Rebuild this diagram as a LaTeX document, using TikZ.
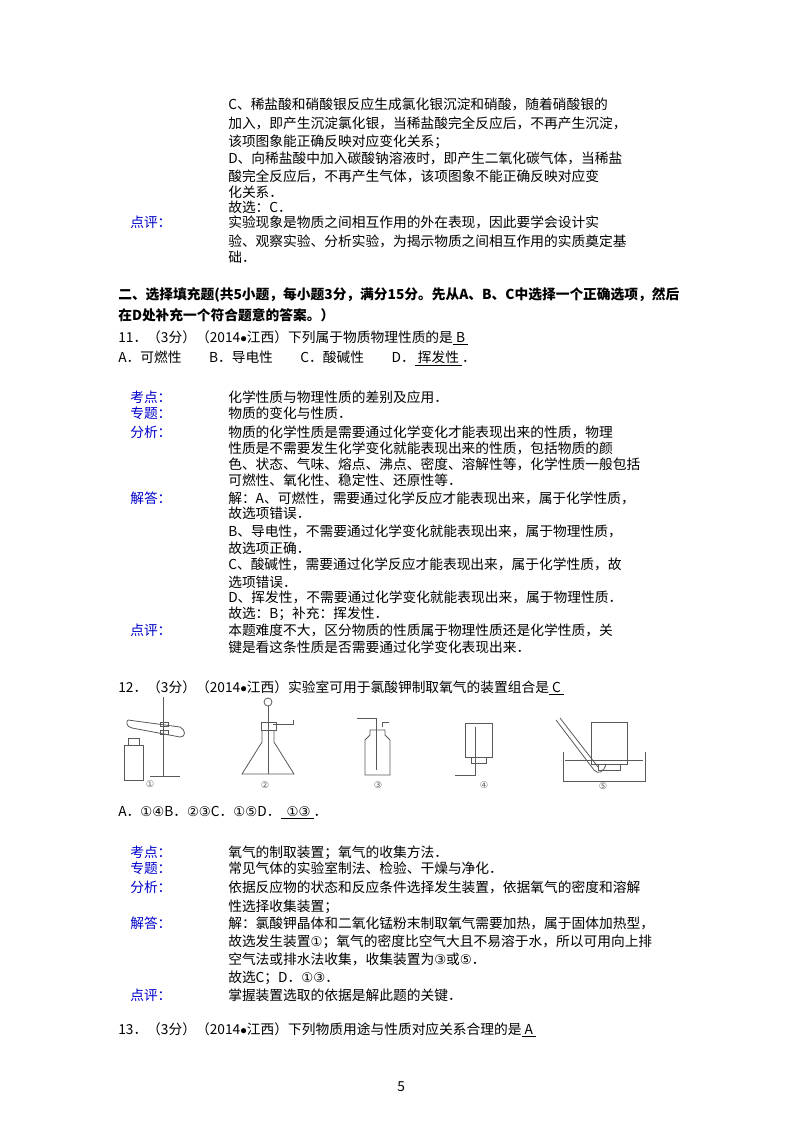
\documentclass[tikz,border=0pt]{standalone}
\usepackage{fontspec}
\setmainfont{Liberation Serif}
\newfontfamily\cjk{Noto Sans CJK SC}
\newfontfamily\dvs{DejaVu Sans}
\newcommand\cn[1]{{\dvs\fontsize{10}{11}\selectfont #1}}
\begin{document}
\begin{tikzpicture}[x=0.75pt,y=-0.75pt,
  t/.style={anchor=base west,inner sep=0,font=\fontsize{10.3}{11}\cjk},
  lb/.style={t,text=blue!80!black},
  hd/.style={t,font=\fontsize{10.3}{11}\cjk\bfseries},
  app/.style={draw=black!65,line width=0.6pt},
  num/.style={inner sep=0,font=\dvs\fontsize{7}{8}\selectfont,text=black!60}]
\useasboundingbox (0,0) rectangle (800,1132);
\fill[white] (0,0) rectangle (800,1132);
% block 1
\node[t] (a1) at (228,109) {C、稀盐酸和硝酸银反应生成氯化银沉淀和硝酸，随着硝酸银的};
\node[t] (a2) at (228,128) {加入，即产生沉淀氯化银，当稀盐酸完全反应后，不再产生沉淀，};
\node[t] (a3) at (228,146) {该项图象能正确反映对应变化关系；};
\node[t] (a4) at (228,163) {D、向稀盐酸中加入碳酸钠溶液时，即产生二氧化碳气体，当稀盐};
\node[t] (a5) at (228,181) {酸完全反应后，不再产生气体，该项图象不能正确反映对应变};
\node[t] (a6) at (228,197) {化关系．};
\node[t] (a7) at (228,212) {故选：C．};
\node[lb] (l1) at (130,227) {点评：};
\node[t] (a8) at (228,227) {实验现象是物质之间相互作用的外在表现，因此要学会设计实};
\node[t] (a9) at (228,246) {验、观察实验、分析实验，为揭示物质之间相互作用的实质奠定基};
\node[t] (a10) at (228,262) {础．};
% section
\node[hd] (h1) at (118,299) {二、选择填充题(共5小题，每小题3分，满分15分。先从A、B、C中选择一个正确选项，然后};
\node[hd] (h2) at (118,320) {在D处补充一个符合题意的答案。）};
\node[t] (q11) at (118,342) {11．（3分）（2014$\bullet$江西）下列属于物质物理性质的是\underline{\ B\ }};
\node[t] (o11) at (118,362) {A．可燃性\qquad B．导电性\qquad C．酸碱性\qquad D．\underline{\ 挥发性\ }．};
\node[lb] (k1) at (130,402) {考点：};
\node[t] (b1) at (228,402) {化学性质与物理性质的差别及应用．};
\node[lb] (k2) at (130,418) {专题：};
\node[t] (b2) at (228,418) {物质的变化与性质．};
\node[lb] (k3) at (130,437) {分析：};
\node[t] (b3) at (228,437) {物质的化学性质是需要通过化学变化才能表现出来的性质，物理};
\node[t] (b4) at (228,453) {性质是不需要发生化学变化就能表现出来的性质，包括物质的颜};
\node[t] (b5) at (228,469) {色、状态、气味、熔点、沸点、密度、溶解性等，化学性质一般包括};
\node[t] (b6) at (228,485) {可燃性、氧化性、稳定性、还原性等．};
\node[lb] (k4) at (130,503) {解答：};
\node[t] (b7) at (228,503) {解：A、可燃性，需要通过化学反应才能表现出来，属于化学性质，};
\node[t] (b8) at (228,518) {故选项错误．};
\node[t] (b9) at (228,536) {B、导电性，不需要通过化学变化就能表现出来，属于物理性质，};
\node[t] (b10) at (228,553) {故选项正确．};
\node[t] (b11) at (228,569) {C、酸碱性，需要通过化学反应才能表现出来，属于化学性质，故};
\node[t] (b12) at (228,587) {选项错误．};
\node[t] (b13) at (228,602) {D、挥发性，不需要通过化学变化就能表现出来，属于物理性质．};
\node[t] (b14) at (228,618) {故选：B；补充：挥发性．};
\node[lb] (k5) at (130,635) {点评：};
\node[t] (b15) at (228,635) {本题难度不大，区分物质的性质属于物理性质还是化学性质，关};
\node[t] (b16) at (228,652) {键是看这条性质是否需要通过化学变化表现出来．};
% Q12
\node[t] (q12) at (118,692) {12．（3分）（2014$\bullet$江西）实验室可用于氯酸钾制取氧气的装置组合是\underline{\ C\ }};
% apparatus 1
\draw[app] (124,780) rectangle (143,745); \draw[app] (128,745) rectangle (139,738);
\draw[app] (163,697) -- (163,776); \draw[app] (150,776) -- (180,776);
\draw[app] (128,720) -- (180,727) .. controls (186,730) and (186,737) .. (180,737) -- (132,728) .. controls (126,727) and (126,721) .. (128,720);
\draw[app] (160,722) rectangle (168,726); \draw[app] (160,730) rectangle (168,734);
\node[num] (n1) at (150,784) {①};
% apparatus 2
\draw[app] (268,702) circle (4);
\draw[app] (268,706) -- (268,774);
\draw[app] (261,722) rectangle (276,730);
\draw[app] (262,730) -- (262,742) -- (242,774) -- (294,774) -- (274,742) -- (274,730);
\draw[app] (273,724) -- (293,724) -- (293,720);
\node[num] (n2) at (265,785) {②};
% apparatus 3
\draw[app] (370,730) -- (370,735) -- (365,740) -- (365,775) -- (390,775) -- (390,740) -- (385,735) -- (385,730) -- cycle;
\draw[app] (357,718) -- (376,718) -- (376,770);
\draw[app] (382,727) -- (382,722) -- (389,722);
\node[num] (n3) at (378,785) {③};
% apparatus 4
\draw[app] (465,723) rectangle (492,757);
\draw[app] (471,757) rectangle (486,763);
\draw[app] (455,775) -- (475,775) -- (475,727);
\node[num] (n4) at (484,785) {④};
% apparatus 5
\draw[app] (563,752) -- (563,781) -- (645,781) -- (645,752);
\draw[app] (565,760) -- (643,760);
\draw[app] (591,722) rectangle (627,764); \draw[app] (598,764) rectangle (620,770);
\draw[app] (556,720) -- (594,770) .. controls (598,775) and (604,772) .. (606,764);
\draw[app] (560,718) -- (598,767);
\node[num] (n5) at (603,786) {⑤};
\node[t] (o12) at (118,816) {A．\cn{①④}B．\cn{②③}C．\cn{①⑤}D．\underline{\ \ \cn{①③}\ }．};
\node[lb] (m1) at (130,857) {考点：};
\node[t] (c1) at (228,857) {氧气的制取装置；氧气的收集方法．};
\node[lb] (m2) at (130,873) {专题：};
\node[t] (c2) at (228,873) {常见气体的实验室制法、检验、干燥与净化．};
\node[lb] (m3) at (130,892) {分析：};
\node[t] (c3) at (228,892) {依据反应物的状态和反应条件选择发生装置，依据氧气的密度和溶解};
\node[t] (c4) at (228,911) {性选择收集装置；};
\node[lb] (m4) at (130,928) {解答：};
\node[t] (c5) at (228,928) {解：氯酸钾晶体和二氧化锰粉末制取氧气需要加热，属于固体加热型，};
\node[t] (c6) at (228,946) {故选发生装置\cn{①}；氧气的密度比空气大且不易溶于水，所以可用向上排};
\node[t] (c7) at (228,964) {空气法或排水法收集，收集装置为\cn{③}或\cn{⑤}．};
\node[t] (c8) at (228,982) {故选C；D．\cn{①③}．};
\node[lb] (m5) at (130,1000) {点评：};
\node[t] (c9) at (228,1000) {掌握装置选取的依据是解此题的关键．};
\node[t] (q13) at (118,1034) {13．（3分）（2014$\bullet$江西）下列物质用途与性质对应关系合理的是\underline{\ A\ }};
\node[t] (pg) at (397,1091) {5};
\end{tikzpicture}
\end{document}
